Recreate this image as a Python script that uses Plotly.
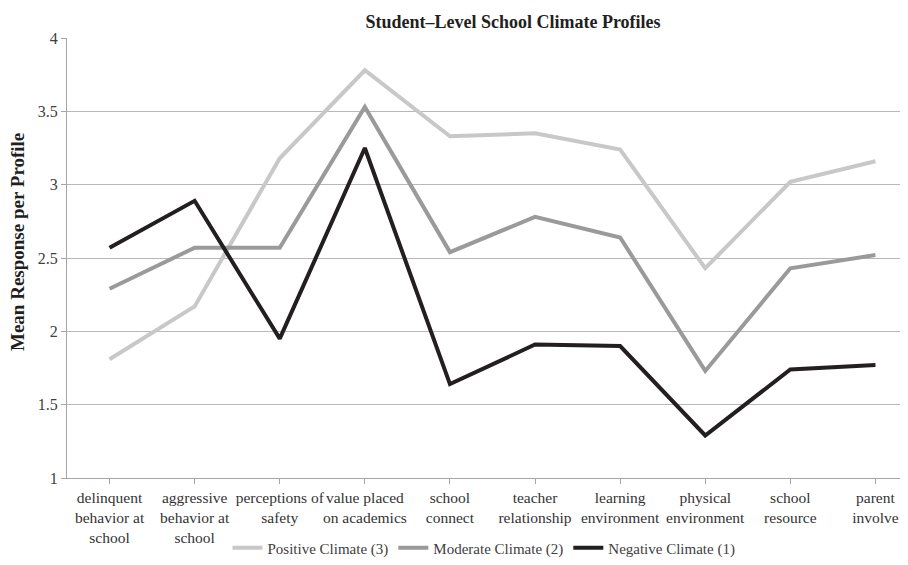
import plotly.graph_objects as go

categories = [
    "delinquent<br>behavior at<br>school",
    "aggressive<br>behavior at<br>school",
    "perceptions of<br>safety",
    "value placed<br>on academics",
    "school<br>connect",
    "teacher<br>relationship",
    "learning<br>environment",
    "physical<br>environment",
    "school<br>resource",
    "parent<br>involve",
]

positive = [1.81, 2.17, 3.18, 3.78, 3.33, 3.35, 3.24, 2.43, 3.02, 3.16]
moderate = [2.29, 2.57, 2.57, 3.53, 2.54, 2.78, 2.64, 1.73, 2.43, 2.52]
negative = [2.57, 2.89, 1.95, 3.25, 1.64, 1.91, 1.90, 1.29, 1.74, 1.77]

series_names = ["Positive Climate (3)", "Moderate Climate (2)", "Negative Climate (1)"]
series_colors = ["#c8c8c8", "#9a9a9c", "#231f20"]

# page body has an 8px margin; figure is sized so its content lands where the reference has it
OFF = 8
W, H = 908 - OFF, 565 - OFF
L, R, T = 67 - OFF, 0, 38 - OFF
B = H - (478 - OFF)
plot_w = W - L - R
plot_h = H - T - B

fig = go.Figure()
for name, vals, col in zip(series_names, [positive, moderate, negative], series_colors):
    fig.add_trace(go.Scatter(
        x=list(range(len(categories))), y=vals, name=name, mode="lines",
        line=dict(color=col, width=4),
    ))

font_family = "Liberation Serif"
fig.update_layout(
    width=W, height=H,
    margin=dict(l=L, r=R, t=T, b=B, autoexpand=False),
    paper_bgcolor="white", plot_bgcolor="white",
    font=dict(family=font_family, color="#404040", size=15),
    title=dict(
        text="<b>Student\u2013Level School Climate Profiles</b>",
        x=(513 - OFF) / W, xref="container", xanchor="center",
        y=1 - (22 - OFF) / H, yref="container", yanchor="middle",
        font=dict(family=font_family, size=18, color="#231f20"),
    ),
    showlegend=True,
    legend=dict(
        orientation="h", x=(484 - 67) / plot_w, xanchor="center",
        y=-(548 - 478) / plot_h, yanchor="middle",
        font=dict(family=font_family, size=15, color="#404040"),
        bgcolor="rgba(0,0,0,0)", itemwidth=30, tracegroupgap=0,
    ),
    xaxis=dict(
        tickmode="array", tickvals=list(range(len(categories))), ticktext=categories,
        range=[-0.5, 9.5 - 10 / 85.2],
        showgrid=False, showline=True, linecolor="#a6a6a6", linewidth=1,
        ticks="outside", tickson="boundaries", ticklen=5, tickcolor="#a6a6a6",
        tickangle=0, tickfont=dict(family=font_family, size=15.5, color="#333333"),
        zeroline=False, fixedrange=True, automargin=False,
    ),
    yaxis=dict(
        range=[1, 4], dtick=0.5, tick0=1,
        showgrid=True, gridcolor="#b8b8b8", gridwidth=1,
        showline=True, linecolor="#a6a6a6", linewidth=1,
        ticks="outside", ticklen=5, tickcolor="#a6a6a6",
        tickfont=dict(family=font_family, size=16, color="#404040"),
        zeroline=False, fixedrange=True, automargin=False,
    ),
    annotations=[dict(
        text="<b>Mean Response per Profile</b>", textangle=-90,
        xref="paper", yref="paper", x=(17 - 67) / plot_w, y=(478 - 242) / plot_h,
        xanchor="center", yanchor="middle", showarrow=False,
        font=dict(family=font_family, size=19, color="#231f20"),
    )],
)

fig.write_html("out.html")
